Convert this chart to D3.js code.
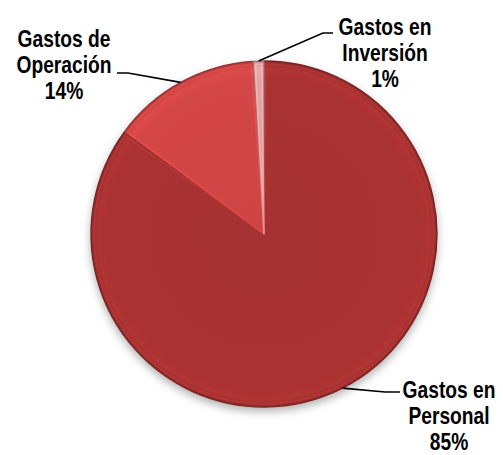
<!DOCTYPE html>
<html>
<head>
<meta charset="utf-8">
<script src="https://cdn.jsdelivr.net/npm/d3@7"></script>
<style>
  body { margin: 0; background: #fff; }
  svg { display: block; }
  .label { font-family: 'Liberation Sans', Arial, sans-serif; font-weight: bold; font-size: 24px; fill: #000; }
  .leader { fill: none; stroke: #000; stroke-width: 1.6; }
</style>
</head>
<body>
<script>
const WIDTH = 503, HEIGHT = 455
const CENTER = [264, 234]
const RADIUS = 173

// data
const categories = ['Gastos en Personal', 'Gastos de Operación', 'Gastos en Inversión']
const values = [85, 14, 1]
const labelLines = [['Gastos en', 'Personal', '85%'],
                    ['Gastos de', 'Operación', '14%'],
                    ['Gastos en', 'Inversión', '1%']]
const colors = ['#aa3232', '#d44646', '#e3a3a3']

// label layout: center of text block, first baseline, elbow of leader line
const LINE_GAP = 26
const labelPos = [
  { x: 449, y: 398, elbow: [[385, 392], [400, 392]] },
  { x: 64,  y: 47,  elbow: [[128, 73], [117, 73]] },
  { x: 385, y: 35,  elbow: [[323, 33], [333, 33]] }
]

let svg = d3.select('body').append('svg')
  .attr('width', WIDTH)
  .attr('height', HEIGHT)

let defs = svg.append('defs')
let shadow = defs.append('filter').attr('id', 'shadow')
  .attr('x', '-20%').attr('y', '-20%').attr('width', '140%').attr('height', '140%')
shadow.append('feDropShadow')
  .attr('dx', 0).attr('dy', 4).attr('stdDeviation', 4)
  .attr('flood-color', '#000').attr('flood-opacity', 0.3)

// soft radial shading for a slight 3d look (gradient lives in the pie group's coords)
colors.forEach((c, i) => {
  let g = defs.append('radialGradient').attr('id', 'grad' + i)
    .attr('gradientUnits', 'userSpaceOnUse')
    .attr('cx', 0).attr('cy', 0).attr('r', RADIUS)
  g.append('stop').attr('offset', '0%').attr('stop-color', d3.color(c).darker(0.08))
  g.append('stop').attr('offset', '90%').attr('stop-color', c)
  g.append('stop').attr('offset', '96%').attr('stop-color', d3.color(c).brighter(0.12))
  g.append('stop').attr('offset', '100%').attr('stop-color', d3.color(c).darker(0.45))
})

let pie = d3.pie().sort(null).value(d => d)
let arcs = pie(values)

let arc = d3.arc().innerRadius(0).outerRadius(RADIUS)

let g = svg.append('g')
  .attr('transform', 'translate(' + CENTER + ')')

g.append('g')
  .attr('filter', 'url(#shadow)')
  .selectAll('path')
  .data(arcs)
  .join('path')
    .attr('d', arc)
    .attr('fill', (d, i) => 'url(#grad' + i + ')')
    .attr('stroke', (d, i) => d3.color(colors[i]).darker(1))
    .attr('stroke-width', 1.3)
    .attr('stroke-linejoin', 'round')

// thin highlight along the slice edges
g.append('g')
  .selectAll('path')
  .data(arcs)
  .join('path')
    .attr('d', d3.arc().innerRadius(0).outerRadius(RADIUS - 3)
      .startAngle(d => d.startAngle + 0.012).endAngle(d => d.endAngle - 0.012))
    .attr('fill', 'none')
    .attr('stroke', (d, i) => d3.color(colors[i]).brighter(0.4))
    .attr('stroke-opacity', 0.6)
    .attr('stroke-width', 1.6)

// leader lines from slice mid-angle on the rim to the label
let line = d3.line()
svg.append('g')
  .selectAll('path')
  .data(arcs)
  .join('path')
    .attr('class', 'leader')
    .attr('d', (d, i) => {
      let a = (d.startAngle + d.endAngle) / 2
      let p = [CENTER[0] + RADIUS * Math.sin(a), CENTER[1] - RADIUS * Math.cos(a)]
      return line([p].concat(labelPos[i].elbow))
    })

// labels (condensed bold, like the original narrow font)
let labels = svg.append('g')
  .selectAll('g')
  .data(labelLines)
  .join('g')
    .attr('transform', (d, i) => 'translate(' + labelPos[i].x + ',' + labelPos[i].y + ') scale(0.8,1)')

labels.append('text')
  .attr('class', 'label')
  .attr('text-anchor', 'middle')
  .selectAll('tspan')
  .data(d => d)
  .join('tspan')
    .attr('x', 0)
    .attr('y', (d, i) => i * LINE_GAP)
    .text(d => d)
</script>
</body>
</html>
